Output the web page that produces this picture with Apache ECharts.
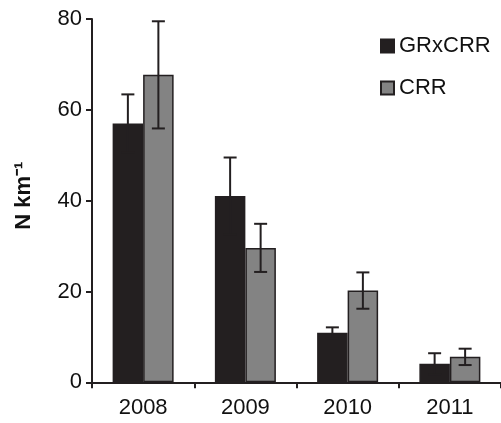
<!DOCTYPE html>
<html><head><meta charset="utf-8">
<script src="https://cdn.jsdelivr.net/npm/echarts@6/dist/echarts.min.js"></script>
<style>html,body{margin:0;padding:0;background:#fff}#c{width:501px;height:423px}</style>
</head><body><div id="c"></div>
<script>
const years = ['2008', '2009', '2010', '2011'];
const grxcrr = [57.0, 41.0, 10.9, 4.1];
const grxcrrErr = [6.4, 8.5, 1.2, 2.3];
const crr = [67.7, 29.6, 20.2, 5.6];
const crrErr = [11.8, 5.3, 4.0, 1.8];
const yTicks = [0, 20, 40, 60, 80];

const BAR_W = 30.5;
const DARK = '#231f20', GRAY = '#838383';
const FONT = 'Liberation Sans, Arial, sans-serif';

function errData(vals, errs) {
  return vals.map((v, i) => [i, v - errs[i], v + errs[i]]);
}
function errSeries(name, vals, errs, offset) {
  return {
    type: 'custom', name: name + ' err', z: 5, silent: true,
    encode: { x: 0, y: [1, 2] },
    data: errData(vals, errs),
    renderItem: function (params, api) {
      const lo = api.coord([api.value(0), api.value(1)]);
      const hi = api.coord([api.value(0), api.value(2)]);
      const x = lo[0] + offset;
      const cw = 6.5;
      const st = { stroke: DARK, lineWidth: 2 };
      return { type: 'group', children: [
        { type: 'line', shape: { x1: x, y1: lo[1], x2: x, y2: hi[1] }, style: st },
        { type: 'line', shape: { x1: x - cw, y1: hi[1], x2: x + cw, y2: hi[1] }, style: st },
        { type: 'line', shape: { x1: x - cw, y1: lo[1], x2: x + cw, y2: lo[1] }, style: st }
      ]};
    }
  };
}

const chart = echarts.init(document.getElementById('c'));
chart.setOption({
  animation: false,
  backgroundColor: '#fff',
  textStyle: { fontFamily: FONT },
  grid: { left: 92, top: 19, bottom: 40.7, right: -7, containLabel: false },
  legend: {
    orient: 'vertical', left: 380, top: 35, padding: 0,
    itemWidth: 13, itemHeight: 13, itemGap: 20,
    icon: 'rect',
    textStyle: { fontSize: 22, color: '#111', fontFamily: FONT, padding: [0, 0, 0, 0] },
    data: ['GRxCRR', 'CRR']
  },
  xAxis: {
    type: 'category', data: years,
    axisLine: { lineStyle: { color: DARK, width: 2 } },
    axisTick: { show: true, length: 6, lineStyle: { color: DARK, width: 2 } },
    axisLabel: { fontSize: 22, color: '#111', margin: 15, fontFamily: FONT }
  },
  yAxis: {
    type: 'value', min: yTicks[0], max: yTicks[yTicks.length - 1], interval: 20,
    name: 'N km⁻¹', nameLocation: 'middle', nameGap: 57,
    nameTextStyle: { fontSize: 22, fontWeight: 'bold', color: '#111', fontFamily: FONT, padding: [0, 0, 0, 10] },
    splitLine: { show: false },
    axisLine: { show: true, lineStyle: { color: DARK, width: 2 } },
    axisTick: { show: true, length: 6, lineStyle: { color: DARK, width: 2 } },
    axisLabel: { fontSize: 22, color: '#111', margin: 10, fontFamily: FONT }
  },
  series: [
    { type: 'bar', name: 'GRxCRR', data: grxcrr, barWidth: BAR_W, barGap: '0%',
      itemStyle: { color: DARK, borderColor: DARK, borderWidth: 1.5 } },
    { type: 'bar', name: 'CRR', data: crr, barWidth: BAR_W, barGap: '0%',
      itemStyle: { color: GRAY, borderColor: DARK, borderWidth: 1.5 } },
    errSeries('GRxCRR', grxcrr, grxcrrErr, -BAR_W / 2),
    errSeries('CRR', crr, crrErr, BAR_W / 2)
  ]
});
</script></body></html>
